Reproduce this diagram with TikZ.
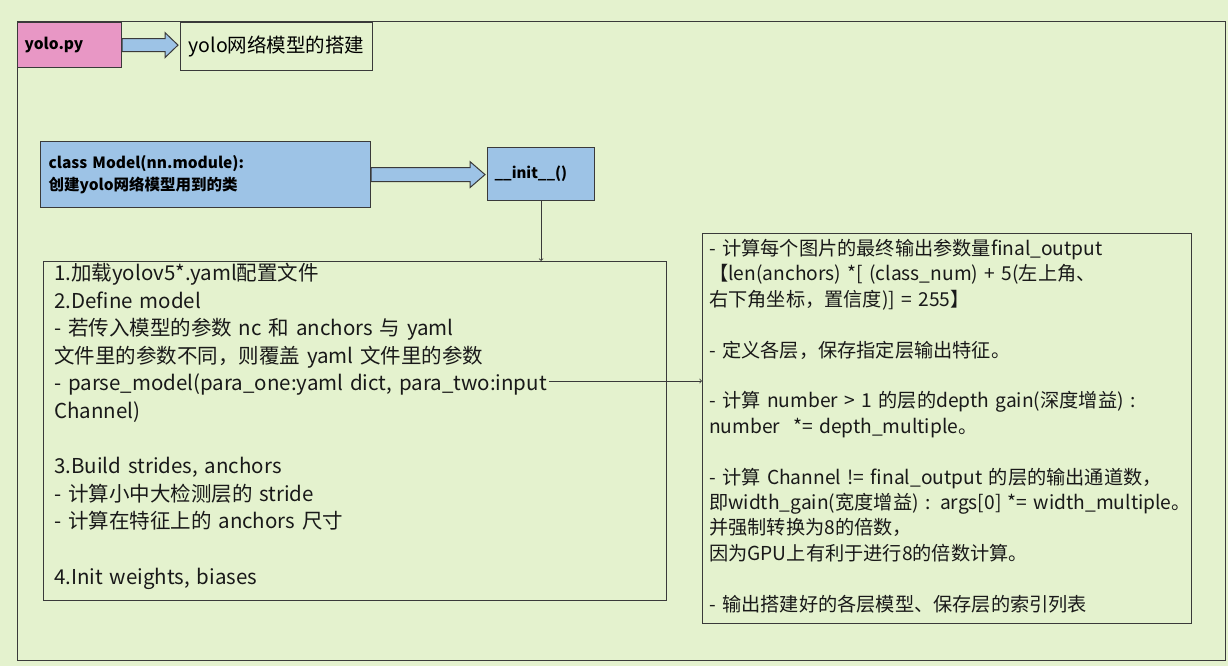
\documentclass[tikz,border=0pt]{standalone}
\usepackage{fontspec}
\setmainfont{Noto Sans CJK SC}
\usetikzlibrary{calc}
\usetikzlibrary{positioning}

\definecolor{bgGreen}{HTML}{E4F2CE}
\definecolor{pyPink}{HTML}{E897C5}
\definecolor{clsBlue}{HTML}{9DC3E6}
\definecolor{lineGray}{HTML}{3A3A3A}

\tikzset{
  panel/.style={draw=lineGray, line width=1.2pt, inner sep=0pt, anchor=north west},
  fatarrow/.style={draw=lineGray, fill=clsBlue, line width=1pt},
  linkarrow/.style={draw=lineGray, line width=0.8pt, ->},
  bodytext/.style={anchor=north west, inner sep=0pt, align=left, text=black!90}
}

\begin{document}
\begin{tikzpicture}[x=1pt, y=-1pt]
    \fill[bgGreen] (0,0) rectangle (1228,666);
    \useasboundingbox (0,0) rectangle (1228,666);
    % outer frame and header
    \node[panel, minimum width=1208pt, minimum height=639pt] (frame) at (17,21) {};
    \node[panel, fill=pyPink, minimum height=45pt, text width=90pt, inner xsep=7pt,
          font=\bfseries\fontsize{15.5}{18}\selectfont] (py) at (17,22) {yolo.py};
    \node[panel, minimum width=192pt, minimum height=48pt,
          font=\fontsize{19.5}{24}\selectfont] (title) at (180,22) {yolo网络模型的搭建};
    \coordinate (t1) at ([xshift=-2pt]title.west |- py.east);
    \draw[fatarrow] ($(py.east)+(0,-6.5)$) -- ($(t1)+(-13,-6.5)$) -- ($(t1)+(-13,-12.5)$) -- (t1)
        -- ($(t1)+(-13,12.5)$) -- ($(t1)+(-13,6.5)$) -- ($(py.east)+(0,6.5)$) -- cycle;

    % class and __init__
    \node[panel, fill=clsBlue, minimum height=66pt, text width=314pt, inner xsep=8pt,
          font=\bfseries\fontsize{15.5}{22}\selectfont] (cls) at (40,141)
          {class Model(nn.module):\\创建yolo网络模型用到的类};
    \node[panel, fill=clsBlue, minimum height=53pt, text width=93pt, inner xsep=7pt,
          font=\bfseries\fontsize{15}{18}\selectfont] (init) at (487,147) {\_\_init\_\_()};
    \coordinate (t2) at ([xshift=-2pt]init.west |- cls.east);
    \draw[fatarrow] ($(cls.east)+(0,-7)$) -- ($(t2)+(-15,-7)$) -- ($(t2)+(-15,-13)$) -- (t2)
        -- ($(t2)+(-15,13)$) -- ($(t2)+(-15,7)$) -- ($(cls.east)+(0,7)$) -- cycle;

    % steps of __init__
    \node[panel, minimum width=623pt, minimum height=339pt] (build) at (43,261) {};
    \node[bodytext, text width=640pt, font=\fontsize{20.5}{27.6}\selectfont] (steps)
        at ([xshift=11pt, yshift=-2pt]build.north west) {%
        1.加载yolov5*.yaml配置文件\\
        2.Define model\\
        - 若传入模型的参数 nc 和 anchors 与 yaml\\
        文件里的参数不同，则覆盖 yaml 文件里的参数\\
        - parse\_model(para\_one:yaml dict, para\_two:input\\
        Channel)\\[27.6pt]
        3.Build strides, anchors\\
        - 计算小中大检测层的 stride\\
        - 计算在特征上的 anchors 尺寸\\[27.6pt]
        4.Init weights, biases};
    \draw[linkarrow] (init.south) -- (init.south |- build.north);

    % parse_model
    \node[panel, minimum width=489pt, minimum height=390pt] (layers) at (702,233) {};
    \node[bodytext, text width=520pt, font=\fontsize{19.2}{25.4}\selectfont] (notes)
        at ([xshift=7pt, yshift=-6pt]layers.north west) {%
        - 计算每个图片的最终输出参数量final\_output\\
        【len(anchors) *[ (class\_num) + 5(左上角、\\
        右下角坐标，置信度)] = 255】\\[25.4pt]
        - 定义各层，保存指定层输出特征。\\[25.4pt]
        - 计算 number > 1 的层的depth gain(深度增益) :\\
        number~~*= depth\_multiple。\\[25.4pt]
        - 计算 Channel != final\_output 的层的输出通道数，\\
        即width\_gain(宽度增益) : args[0] *= width\_multiple。\\
        并强制转换为8的倍数，\\
        因为GPU上有利于进行8的倍数计算。\\[25.4pt]
        - 输出搭建好的各层模型、保存层的索引列表};
    \coordinate (pm) at (549,381);
    \draw[linkarrow] (pm) -- (pm -| layers.west);
\end{tikzpicture}
\end{document}
